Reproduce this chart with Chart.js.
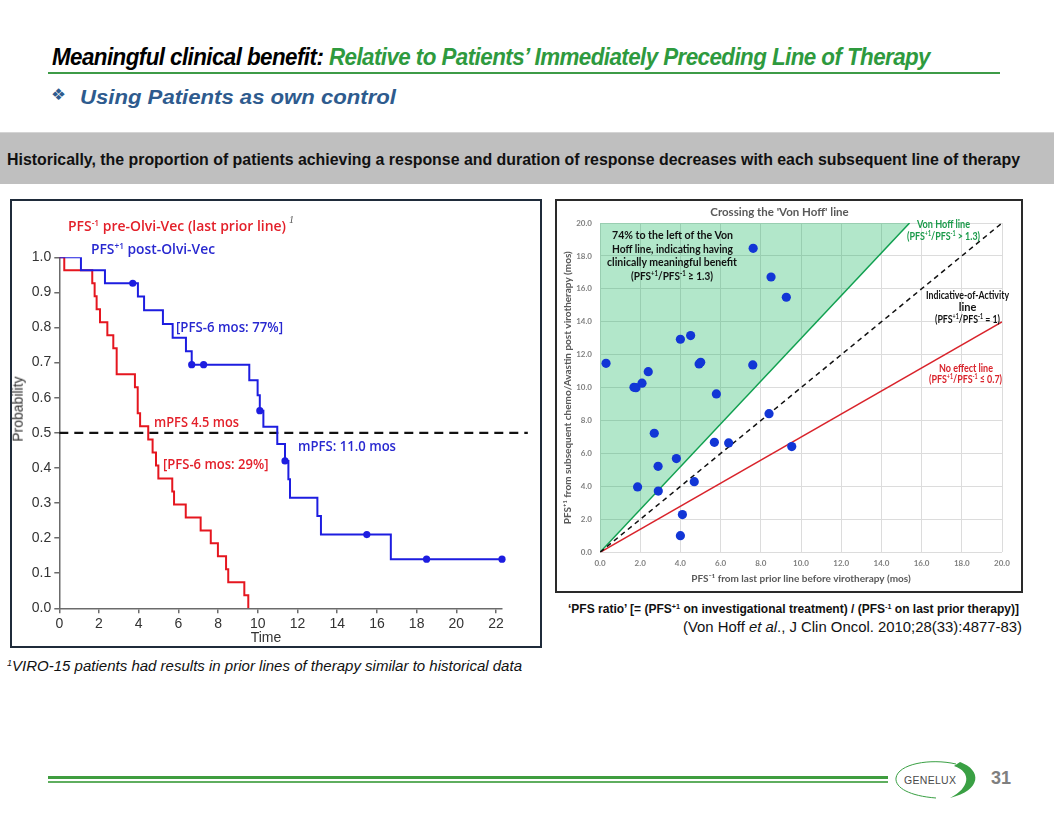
<!DOCTYPE html>
<html><head><meta charset="utf-8">
<script src="https://cdn.jsdelivr.net/npm/chart.js"></script>
<style>
html,body{margin:0;padding:0;background:#fff;}
body{width:1056px;height:816px;position:relative;overflow:hidden;font-family:"Liberation Sans",Arial,sans-serif;}
.t{position:absolute;white-space:nowrap;line-height:1;transform-origin:0 0;}
sup{font-size:0.6em;vertical-align:0.55em;line-height:0;}
.box{position:absolute;box-sizing:border-box;}
canvas{position:absolute;}
</style>
</head><body>
<div class="box" style="left:48px;top:72px;width:952px;height:2px;background:#3d9b47;"></div>
<div class="box" style="left:0;top:132px;width:1054px;height:52px;background:#bfbfbf;border-top:1px solid #d4d4d4;"></div>
<div class="box" style="left:10px;top:199px;width:532px;height:449px;border:2px solid #1f2b3a;"></div>
<div class="box" style="left:555px;top:199px;width:468px;height:394px;border:2px solid #2a2a2a;"></div>
<canvas id="km" width="528" height="445" style="left:12px;top:201px;"></canvas>
<canvas id="sc" width="464" height="390" style="left:557px;top:201px;"></canvas>
<div class="box" style="left:48px;top:776px;width:840px;height:2.5px;background:#3f9d3f;"></div>
<div class="box" style="left:48px;top:781px;width:840px;height:2px;background:#5fae5f;"></div>
<svg style="position:absolute;left:890px;top:758px" width="92" height="44">
  <path d="M70 4 C 92 12, 92 32, 60 40 C 80 30, 82 14, 64 8 Z" fill="#3aa044"/>
  <path d="M66 6 C 40 0, 8 6, 6 20 C 5 30, 20 38, 46 40" fill="none" stroke="#3aa044" stroke-width="1"/>
  <text x="14" y="26" font-family="Liberation Sans, Arial" font-size="10.5" fill="#4a4a4a" letter-spacing="0.3">GENELUX</text>
</svg>
<script>
// ---------------- Data: Kaplan–Meier (left panel) ----------------
const timeTickStep = 2;
const probTickStep = 0.1;
// PFS+1 post-Olvi-Vec (step drop times and survival after each drop)
const postTimes = [0, 1.09, 2.30, 3.96, 4.27, 5.22, 5.71, 6.38, 6.67, 9.57, 9.99, 10.10, 10.28, 10.98, 11.37, 11.54, 11.62, 13.00, 13.18, 16.70, 22.30];
const postSurv  = [1.0, 0.963, 0.926, 0.888, 0.849, 0.810, 0.771, 0.732, 0.694, 0.650, 0.607, 0.563, 0.517, 0.468, 0.420, 0.368, 0.315, 0.263, 0.210, 0.140, 0.140];
// censored observations on PFS+1 curve
const censorTimes = [3.70, 6.67, 7.27, 10.10, 11.37, 15.49, 18.50, 22.30];
const censorSurv  = [0.926, 0.694, 0.694, 0.563, 0.420, 0.210, 0.140, 0.140];
// PFS-1 pre-Olvi-Vec (last prior line)
const preTimes = [0, 0.25, 1.66, 1.78, 1.88, 2.05, 2.42, 2.72, 2.89, 3.81, 3.95, 4.07, 4.48, 4.70, 4.87, 4.99, 5.69, 5.78, 6.37, 7.12, 7.63, 7.99, 8.40, 8.51, 9.32, 9.52];
const preSurv  = [1.0, 0.963, 0.926, 0.889, 0.852, 0.815, 0.778, 0.741, 0.667, 0.630, 0.556, 0.519, 0.481, 0.444, 0.407, 0.370, 0.333, 0.296, 0.259, 0.222, 0.185, 0.148, 0.111, 0.074, 0.037, 0.0];
// median reference line
const medianTimes = [0, 23.6];
const medianLevel = [0.5, 0.5];

// ---------------- Data: Von Hoff scatter (right panel) ----------------
const priorPFS = [0.30, 1.69, 1.79, 2.09, 2.40, 4.00, 4.51, 4.93, 5.01, 7.60, 7.62, 8.51, 9.27, 5.79, 8.41, 2.70, 5.69, 6.40, 9.54, 3.80, 2.89, 4.69, 1.87, 2.90, 4.10, 4.00];
const postPFS  = [11.48, 10.02, 10.00, 10.27, 10.97, 12.94, 13.16, 11.44, 11.54, 11.38, 18.46, 16.72, 15.49, 9.62, 8.42, 7.23, 6.68, 6.64, 6.42, 5.69, 5.22, 4.29, 3.97, 3.72, 2.29, 1.01];
const vonHoffX = [0, 15.4];   const vonHoffY = [0, 20];
const activityX = [0, 20];    const activityY = [0, 20];
const noEffectX = [0, 20];    const noEffectY = [0, 14];
const scatterTickStep = 2;

const zip = (xs, ys) => xs.map((x, i) => ({x, y: ys[i]}));

// ---------------- Left chart ----------------
const axisGray = '#6b6b6b';
new Chart(document.getElementById('km'), {
  type: 'line',
  data: { datasets: [
    { type: 'scatter', data: zip(censorTimes, censorSurv), pointRadius: 3.6, pointBackgroundColor: '#1d1de0', pointBorderWidth: 0, clip: false },
    { data: zip(postTimes, postSurv), stepped: true, borderColor: '#1d1de0', borderWidth: 2, pointRadius: 0, fill: false },
    { data: zip(preTimes, preSurv), stepped: true, borderColor: '#e5161f', borderWidth: 2, pointRadius: 0, fill: false },
    { data: zip(medianTimes, medianLevel), borderColor: '#111', borderWidth: 2.2, borderDash: [9, 6], pointRadius: 0, fill: false, clip: false }
  ]},
  options: {
    responsive: false, animation: false, events: [],
    plugins: { legend: { display: false }, tooltip: { enabled: false } },
    layout: { padding: { top: 56.3, right: 38, left: 0, bottom: 0 } },
    scales: {
      x: { type: 'linear', min: 0, max: 22.3,
           ticks: { stepSize: timeTickStep, includeBounds: false, color: '#333', padding: 2, font: { family: 'Liberation Sans', size: 14 } },
           grid: { drawOnChartArea: false, tickLength: 5, color: axisGray, lineWidth: 1.5 },
           border: { color: axisGray, width: 1.5 },
           afterFit: s => { s.height = 37.7; } },
      y: { type: 'linear', min: 0, max: 1,
           ticks: { stepSize: probTickStep, color: '#333', padding: 3, font: { family: 'Liberation Sans', size: 14 }, callback: v => v.toFixed(1) },
           grid: { drawOnChartArea: false, tickLength: 5, color: axisGray, lineWidth: 1.5 },
           border: { color: axisGray, width: 1.5 },
           afterFit: s => { s.width = 47.3; } }
    }
  }
});

// ---------------- Right chart ----------------
const sFont = { family: 'Lato', weight: 'bold', size: 8 };
new Chart(document.getElementById('sc'), {
  type: 'scatter',
  data: { datasets: [
    { data: zip(priorPFS, postPFS), pointRadius: 4.6, pointBackgroundColor: '#1236d6', pointBorderWidth: 0, clip: false },
    { type: 'line', data: zip(activityX, activityY), borderColor: '#111', borderWidth: 1.5, borderDash: [5, 4], pointRadius: 0, fill: false },
    { type: 'line', data: zip(noEffectX, noEffectY), borderColor: '#d9232b', borderWidth: 1.5, pointRadius: 0, fill: false },
    { type: 'line', data: zip(vonHoffX, vonHoffY), borderColor: '#10a050', borderWidth: 1.5, pointRadius: 0, fill: { value: 20 }, backgroundColor: 'rgba(0,176,80,0.30)' }
  ]},
  options: {
    responsive: false, animation: false, events: [],
    plugins: {
      legend: { display: false }, tooltip: { enabled: false },
      title: { display: true, text: "Crossing the 'Von Hoff' line", color: '#595959',
               font: { family: 'Lato', weight: 'bold', size: 11.5 }, padding: { top: 4.5, bottom: 3.7 } }
    },
    layout: { padding: { top: 0, right: 19, left: 0, bottom: 0 } },
    scales: {
      x: { type: 'linear', min: 0, max: 20,
           ticks: { stepSize: scatterTickStep, color: '#7f7f7f', padding: 6, font: sFont, callback: v => v.toFixed(1) },
           grid: { color: '#dcdcdc', lineWidth: 1, drawTicks: false },
           border: { display: false },
           title: { display: true, text: 'PFS⁻¹ from last prior line before virotherapy (mos)', color: '#595959',
                    font: { family: 'Lato', weight: 'bold', size: 10 }, padding: { top: 0, bottom: 6 } },
           afterFit: s => { s.height = 38.7; } },
      y: { type: 'linear', min: 0, max: 20,
           ticks: { stepSize: scatterTickStep, color: '#7f7f7f', padding: 8, font: sFont, callback: v => v.toFixed(1) },
           grid: { color: '#dcdcdc', lineWidth: 1, drawTicks: false },
           border: { display: false },
           title: { display: true, text: 'PFS⁺¹ from subsequent chemo/Avastin post virotherapy (mos)', color: '#595959',
                    font: { family: 'Lato', weight: 'bold', size: 10 }, padding: { top: 5, bottom: 0 } },
           afterFit: s => { s.width = 43; } }
    }
  }
});

// ---------------- Text overlays ----------------
function addText(html, x, y, opts) {
  const el = document.createElement('div');
  el.className = 't';
  el.innerHTML = html;
  Object.assign(el.style, opts.style || {});
  document.body.appendChild(el);
  const r = el.getBoundingClientRect();
  const s = opts.w ? opts.w / r.width : 1;
  const w = r.width * s;
  let left = x;
  if (opts.anchor === 'center') left = x - w / 2;
  if (opts.anchor === 'right') left = x - w;
  el.style.left = left + 'px';
  el.style.top = (y - r.height / 2) + 'px';
  if (opts.rotate) {
    el.style.transformOrigin = '50% 50%';
    el.style.left = (x - r.width / 2) + 'px';
    el.style.transform = 'rotate(-90deg)';
  } else if (s !== 1) {
    el.style.transform = 'scaleX(' + s + ')';
  }
  return el;
}
const narrow = '"Liberation Sans Narrow","Liberation Sans",Arial,sans-serif';
addText('<span style="color:#000">Meaningful clinical benefit:</span> <span style="color:#2e9a3e">Relative to Patients’ Immediately Preceding Line of Therapy</span>',
  52, 57, { w: 878, style: { fontFamily: narrow, fontWeight: 'bold', fontStyle: 'italic', fontSize: '24px', letterSpacing: '-0.6px' } });
addText('❖', 51, 95, { w: 15, style: { fontFamily: 'DejaVu Sans', fontSize: '16px', color: '#2e5b8e' } });
addText('Using Patients as own control', 80, 96, { w: 316, style: { fontFamily: narrow, fontWeight: 'bold', fontStyle: 'italic', fontSize: '21px', color: '#2e5b8e' } });
addText('Historically, the proportion of patients achieving a response and duration of response decreases with each subsequent line of therapy',
  7, 160, { w: 1013, style: { fontFamily: narrow, fontWeight: 'bold', fontSize: '16px', color: '#111' } });

// left panel annotations
const kmFont = { fontFamily: '"Open Sans","DejaVu Sans",sans-serif', fontSize: '14px', fontWeight: '600' };
addText('PFS<sup>-1</sup> pre-Olvi-Vec (last prior line)', 68, 226, { w: 218, style: Object.assign({ color: '#e3202a' }, kmFont) });
addText('1', 289, 220, { style: { fontFamily: 'Liberation Serif', fontStyle: 'italic', fontSize: '10px', color: '#555' } });
addText('PFS<sup>+1</sup> post-Olvi-Vec', 91, 249, { w: 124, style: Object.assign({ color: '#2828d0' }, kmFont) });
addText('[PFS-6 mos: 77%]', 175.5, 327, { w: 107, style: Object.assign({ color: '#2828d0' }, kmFont) });
addText('mPFS 4.5 mos', 154, 421.5, { w: 85, style: Object.assign({ color: '#e3202a' }, kmFont) });
addText('[PFS-6 mos: 29%]', 163, 463.5, { w: 105.5, style: Object.assign({ color: '#e3202a' }, kmFont) });
addText('mPFS: 11.0 mos', 298, 445.5, { w: 98, style: Object.assign({ color: '#2828d0' }, kmFont) });
addText('Probability', 18, 409, { rotate: true, style: { fontSize: '14px', color: '#333' } });
addText('Time', 266, 637, { anchor: 'center', style: { fontSize: '14px', color: '#333' } });

// right panel annotations
const scF = (c) => ({ fontFamily: 'Lato,sans-serif', fontWeight: 'bold', fontSize: '11px', color: c });
addText('74% to the left of the Von', 672, 234.5, { anchor: 'center', w: 121, style: scF('#111') });
addText('Hoff line, indicating having', 672, 248, { anchor: 'center', w: 121, style: scF('#111') });
addText('clinically meaningful benefit', 672, 261.5, { anchor: 'center', w: 130, style: scF('#111') });
addText('(PFS<sup>+1</sup>/PFS<sup>-1</sup> ≥ 1.3)', 672, 275.5, { anchor: 'center', w: 82, style: scF('#111') });
addText('Von Hoff line', 943, 223.5, { anchor: 'center', w: 53, style: scF('#1a9a4a') });
addText('(PFS<sup>+1</sup>/PFS<sup>-1</sup> &gt; 1.3)', 943, 235.5, { anchor: 'center', w: 73, style: scF('#1a9a4a') });
addText('Indicative-of-Activity', 967.5, 294.5, { anchor: 'center', w: 83, style: scF('#111') });
addText('line', 967.5, 306.5, { anchor: 'center', style: scF('#111') });
addText('(PFS<sup>+1</sup>/PFS<sup>-1</sup> = 1)', 967.5, 318, { anchor: 'center', w: 65, style: scF('#111') });
addText('No effect line', 965.5, 367, { anchor: 'center', w: 54, style: scF('#d9232b') });
addText('(PFS<sup>+1</sup>/PFS<sup>-1</sup> ≤ 0.7)', 965.5, 378.5, { anchor: 'center', w: 73, style: scF('#d9232b') });

// captions & footer
addText('‘PFS ratio’ [= (PFS<sup>+1</sup> on investigational treatment) / (PFS<sup>-1</sup> on last prior therapy)]',
  568, 609, { w: 451, style: { fontWeight: 'bold', fontSize: '12.5px', color: '#111' } });
addText('(Von Hoff <i>et al</i>., J Clin Oncol. 2010;28(33):4877-83)', 1022, 627, { anchor: 'right', w: 339, style: { fontSize: '14.5px', color: '#111' } });
addText('<sup>1</sup>VIRO-15 patients had results in prior lines of therapy similar to historical data',
  7, 665, { w: 515, style: { fontFamily: narrow, fontStyle: 'italic', fontSize: '15px', color: '#111' } });
addText('31', 1001, 778, { anchor: 'center', style: { fontFamily: narrow, fontWeight: 'bold', fontSize: '18px', color: '#7f7f7f' } });
</script>
</body></html>
